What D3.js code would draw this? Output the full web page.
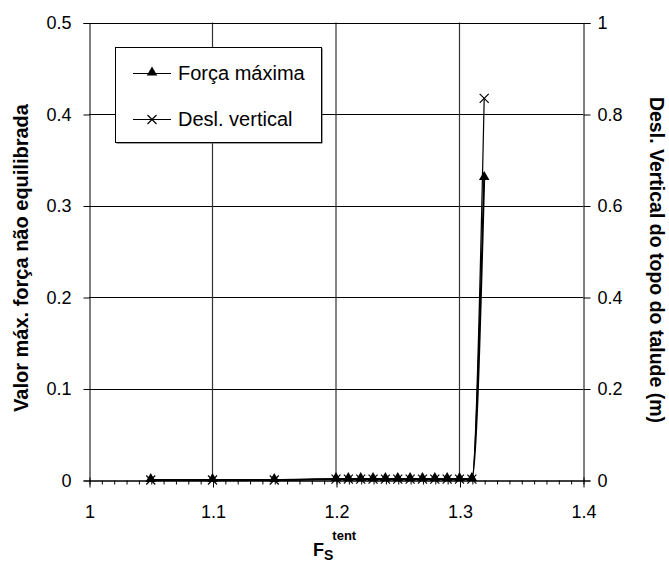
<!DOCTYPE html>
<html>
<head>
<meta charset="utf-8">
<script src="https://cdn.jsdelivr.net/npm/d3@7"></script>
<style>
  body { margin: 0; background: #fff; }
  svg { display: block; font-family: "Liberation Sans", Arial, sans-serif; }
</style>
</head>
<body>
<svg id="chart" width="669" height="562"></svg>
<script>
// ---- data ----
const fsTent = [1.05, 1.10, 1.15, 1.20, 1.21, 1.22, 1.23, 1.24, 1.25, 1.26, 1.27, 1.28, 1.29, 1.30, 1.31, 1.32];
const forcaMaxima = [0, 0, 0, 0.001, 0.001, 0.001, 0.001, 0.001, 0.001, 0.001, 0.001, 0.001, 0.001, 0.001, 0.001, 0.33];
const deslVertical = [0, 0, 0, 0.002, 0.002, 0.002, 0.002, 0.002, 0.002, 0.002, 0.002, 0.002, 0.002, 0.002, 0.002, 0.834];
const xTicks = [1, 1.1, 1.2, 1.3, 1.4];
const yLeftTicks = [0, 0.1, 0.2, 0.3, 0.4, 0.5];
const yRightTicks = [0, 0.2, 0.4, 0.6, 0.8, 1];
const seriesNames = ["Força máxima", "Desl. vertical"];

const svg = d3.select("#chart");
const L = 89, R = 583, T = 22.5, B = 480;

const x = d3.scaleLinear().domain([1, 1.4]).range([L, R]);
const yL = d3.scaleLinear().domain([0, 0.5]).range([B, T]);
const yR = d3.scaleLinear().domain([0, 1]).range([B, T]);

// gridlines
const g = svg.append("g");
g.selectAll(".hg").data(yLeftTicks.slice(1)).enter().append("line")
  .attr("x1", L).attr("x2", R).attr("y1", d => Math.round(yL(d)) + 0.5).attr("y2", d => Math.round(yL(d)) + 0.5)
  .attr("stroke", "#000").attr("stroke-width", 1);
g.selectAll(".vg").data(xTicks.slice(1, -1)).enter().append("line")
  .attr("x1", d => x(d)).attr("x2", d => x(d)).attr("y1", T).attr("y2", B)
  .attr("stroke", "#333").attr("stroke-width", 1.2);

// left axis
const axL = d3.axisLeft(yL).tickValues(yLeftTicks).tickFormat(d3.format("~g")).tickSize(6).tickPadding(12);
const gL = svg.append("g").attr("transform", `translate(${L + 0.5},0.5)`).call(axL);
// right axis
const axR = d3.axisRight(yR).tickValues(yRightTicks).tickFormat(d3.format("~g")).tickSize(7).tickPadding(7);
const gR = svg.append("g").attr("transform", `translate(${R + 0.5},0.5)`).call(axR);
// bottom axis: minor ticks
const minor = d3.range(100, 141).map(v => v / 100);
const axBm = d3.axisBottom(x).tickValues(minor).tickFormat("").tickSize(4).tickSizeOuter(0);
svg.append("g").attr("transform", `translate(0.5,${B + 0.5})`).call(axBm);
const axB = d3.axisBottom(x).tickValues(xTicks).tickFormat(d3.format("~g")).tickSize(7).tickPadding(18).tickSizeOuter(0);
const gB = svg.append("g").attr("transform", `translate(0.5,${B + 0.5})`).call(axB);
gB.selectAll(".tick line").attr("y1", -3);

[gL, gR, gB].forEach(a => {
  a.selectAll("text").attr("font-size", 18).attr("fill", "#000").attr("font-family", "Liberation Sans, Arial, sans-serif");
  a.selectAll("line,path").attr("stroke", "#000");
});
svg.selectAll(".domain").attr("stroke", "#000");
// top frame
svg.append("line").attr("x1", L).attr("x2", R + 1).attr("y1", Math.round(T) + 0.5).attr("y2", Math.round(T) + 0.5).attr("stroke", "#000");

// series
const lineF = d3.line().x((d, i) => x(fsTent[i])).y(d => yL(d)).curve(d3.curveMonotoneX);
const lineD = d3.line().x((d, i) => x(fsTent[i])).y(d => yR(d)).curve(d3.curveMonotoneX);

svg.append("path").attr("d", lineD(deslVertical)).attr("fill", "none").attr("stroke", "#000").attr("stroke-width", 1.2);
svg.append("path").attr("d", lineF(forcaMaxima)).attr("fill", "none").attr("stroke", "#000").attr("stroke-width", 2);

const tri = d3.symbol().type(d3.symbolTriangle).size(48);
function xMark(sel, cx, cy, s) {
  sel.append("path").attr("d", `M${cx - s},${cy - s}L${cx + s},${cy + s}M${cx - s},${cy + s}L${cx + s},${cy - s}`)
    .attr("stroke", "#000").attr("stroke-width", 1.2).attr("fill", "none");
}
deslVertical.forEach((d, i) => xMark(svg, x(fsTent[i]), yR(d), 4.5));
svg.selectAll(".tri").data(forcaMaxima).enter().append("path")
  .attr("d", tri).attr("transform", (d, i) => `translate(${x(fsTent[i])},${yL(d) - 1})`).attr("fill", "#000");

// legend
const lg = svg.append("g");
lg.append("rect").attr("x", 116.5).attr("y", 48.5).attr("width", 206).attr("height", 95).attr("fill", "#444");
lg.append("rect").attr("x", 115.5).attr("y", 47.5).attr("width", 206).attr("height", 95).attr("fill", "#fff").attr("stroke", "#000");
const rows = [73, 119];
seriesNames.forEach((n, i) => {
  lg.append("line").attr("x1", 133).attr("x2", 171).attr("y1", rows[i] + 0.5).attr("y2", rows[i] + 0.5).attr("stroke", "#000").attr("stroke-width", 1.2);
  if (i === 0) lg.append("path").attr("d", tri).attr("transform", `translate(152,${rows[i] - 0.5})`).attr("fill", "#000");
  else xMark(lg, 152, rows[i] + 0.5, 4.5);
  lg.append("text").attr("x", 178).attr("y", rows[i] + 7).attr("font-size", 20).text(n);
});

// axis titles
svg.append("text").attr("transform", "translate(28,258) rotate(-90)").attr("text-anchor", "middle")
  .attr("font-size", 20).attr("font-weight", "bold").text("Valor máx. força não equilibrada");
svg.append("text").attr("transform", "translate(650,260) rotate(90)").attr("text-anchor", "middle")
  .attr("font-size", 19.5).attr("font-weight", "bold").text("Desl. Vertical do topo do talude (m)");
const xt = svg.append("text").attr("x", 313).attr("y", 556).attr("font-weight", "bold");
xt.append("tspan").attr("font-size", 18).text("F");
xt.append("tspan").attr("font-size", 14).attr("dy", 4).text("S");
xt.append("tspan").attr("font-size", 13).attr("dy", -20).attr("dx", -1).text("tent");
</script>
</body>
</html>
